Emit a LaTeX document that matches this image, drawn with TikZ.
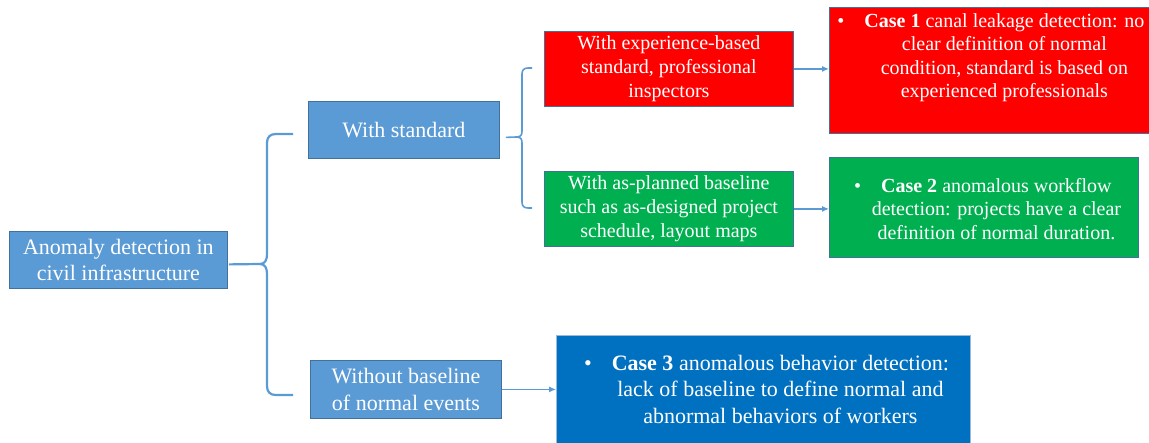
\documentclass[tikz,border=0pt]{standalone}
\usepackage{fontspec}
\setmainfont{Liberation Serif}
\usetikzlibrary{arrows.meta,calc}
\definecolor{accblue}{HTML}{5B9BD5}
\definecolor{edgeblue}{HTML}{41719C}
\definecolor{pptred}{HTML}{FF0000}
\definecolor{pptgreen}{HTML}{00B050}
\definecolor{deepblue}{HTML}{0070C0}
\definecolor{paleedge}{HTML}{9DB9D8}

\begin{document}
\begin{tikzpicture}[x=1pt,y=-1pt,
  box/.style={draw=edgeblue, line width=0.8pt, text=white, align=center,
    inner sep=0pt, anchor=north west},
  bigtext/.style={font=\fontsize{22}{25.5}\selectfont},
  tallbig/.style={font=\fontsize{22}{26.5}\selectfont},
  midtext/.style={font=\fontsize{20}{24}\selectfont},
  casetext/.style={font=\fontsize{20}{23.5}\selectfont, text=white,
    align=center, inner sep=0pt},
  bigcase/.style={font=\fontsize{22}{26.5}\selectfont, text=white,
    align=center, inner sep=0pt},
  brace/.style={draw=accblue, line width=2.2pt, line join=round},
  thinbrace/.style={draw=accblue, line width=1.6pt, line join=round},
  link/.style={draw=accblue, line width=1.2pt, -{Latex[length=7pt,width=6pt]}},
]
\useasboundingbox (0,0) rectangle (1149,442);

% main branch boxes
\node[box, fill=accblue, bigtext, minimum width=218pt, minimum height=57pt]
  (root) at (9,231) {Anomaly detection in\\civil infrastructure};
\node[box, fill=accblue, bigtext, minimum width=191pt, minimum height=57pt]
  (ws) at (308,101) {With standard};
\node[box, fill=accblue, tallbig, minimum width=191pt, minimum height=58pt]
  (wb) at (310,360) {Without baseline\\of normal events};

% standard kinds
\node[box, fill=pptred, midtext, minimum width=249pt, minimum height=75pt]
  (r1) at (544,31) {With experience-based\\standard, professional\\inspectors};
\node[box, fill=pptgreen, midtext, minimum width=249pt, minimum height=75pt]
  (g1) at (544,171) {With as-planned baseline\\such as as-designed project\\schedule, layout maps};

% case boxes
\node[box, fill=pptred, minimum width=320pt, minimum height=126pt,
  label={[casetext, xshift=15pt, yshift=12.5pt]center:{%
    \llap{\textbullet\hspace{20pt}}\textbf{Case 1} canal leakage detection: no\\
    clear definition of normal\\
    condition, standard is based on\\
    experienced professionals}}]
  (c1) at (829,7) {};
\node[box, fill=pptgreen, minimum width=309pt, minimum height=100pt,
  label={[casetext, xshift=12.5pt, yshift=-1.5pt]center:{%
    \llap{\textbullet\hspace{20pt}}\textbf{Case 2} anomalous workflow\\
    detection: projects have a clear\\
    definition of normal duration.}}]
  (c2) at (829,157) {};
\node[box, draw=paleedge, fill=deepblue, minimum width=414pt, minimum height=110pt,
  label={[bigcase, xshift=17pt, yshift=1pt]center:{%
    \llap{\textbullet\hspace{20pt}}\textbf{Case 3} anomalous behavior detection:\\
    lack of baseline to define normal and\\
    abnormal behaviors of workers}}]
  (c3) at (556,335) {};

% left brace joining the root to its two branches
\coordinate (b1top) at (293,134);
\coordinate (b1bot) at (293,395);
\draw[brace] ($(root.east)+(1,4.5)$) -- (260,264);
\draw[brace] (b1top) -- (276,134) .. controls (270,134) and (267,137) .. (267,143)
  -- (267,254) .. controls (267,260) and (265,264) .. (260,264)
  .. controls (265,264) and (267,268) .. (267,274)
  -- (267,386) .. controls (267,392) and (270,395) .. (276,395) -- (b1bot);

% brace under "With standard"
\coordinate (b2top) at (532,68);
\coordinate (b2bot) at (532,208);
\draw[thinbrace] ($(ws.east)+(6,7.5)$) -- (516,137);
\draw[thinbrace] (b2top) -- (528,68) .. controls (524,68) and (522,70) .. (522,74)
  -- (522,131) .. controls (522,135) and (521,137) .. (516,137)
  .. controls (521,137) and (522,139) .. (522,143)
  -- (522,202) .. controls (522,206) and (524,208) .. (528,208) -- (b2bot);

% arrows to the cases
\draw[link] (r1.east) -- (r1.east -| c1.west);
\draw[link] (g1.east) -- (g1.east -| c2.west);
\draw[link] (wb.east) -- (wb.east -| c3.west);
\end{tikzpicture}
\end{document}
